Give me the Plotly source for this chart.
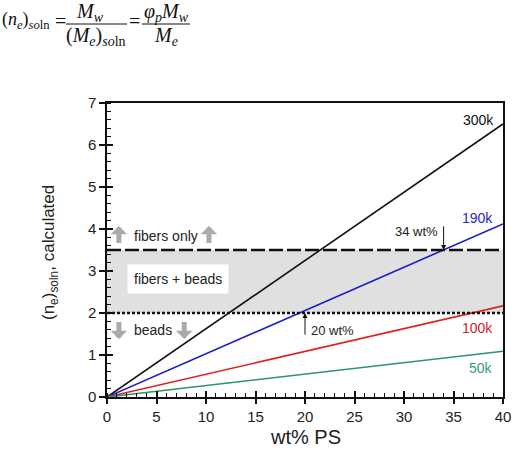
import plotly.graph_objects as go

# ---- data ----
wt_ps = [0, 40]
series_names = ["300k", "190k", "100k", "50k"]
series_end = [6.5, 4.12, 2.17, 1.09]          # (n_e)_soln at 40 wt%
series_colors = ["#111111", "#1a1acc", "#dd2222", "#2e9466"]
label_colors = ["#111111", "#2a2ab8", "#d02424", "#3a9a72"]
label_pos = [(39.3, 6.6), (39.2, 4.27), (39.2, 1.64), (39.2, 0.69)]
fiber_only_level = 3.5
beads_level = 2.0
ann_34 = 34
ann_20 = 20

W, H = 531, 449
L, R, T, B = 107, 28, 103, 52
PW, PH = W - L - R, H - T - B

def px(x):
    return (x - L) / PW

def py(y):
    return (H - B - y) / PH

fig = go.Figure()

# gray band
fig.add_shape(type="rect", xref="x", yref="y", x0=0, x1=40, y0=beads_level, y1=fiber_only_level,
              fillcolor="#e0e0e0", line_width=0, layer="below")

for name, end, col in zip(series_names, series_end, series_colors):
    fig.add_trace(go.Scatter(x=wt_ps, y=[0, end], mode="lines", name=name,
                             line=dict(color=col, width=1.6), showlegend=False))

# threshold lines
fig.add_trace(go.Scatter(x=[0, 40], y=[fiber_only_level] * 2, mode="lines",
                         line=dict(color="#111", width=2.6, dash="14px,4px"), showlegend=False))
fig.add_trace(go.Scatter(x=[0, 40], y=[beads_level] * 2, mode="lines",
                         line=dict(color="#111", width=2.4, dash="3px,2px"), showlegend=False))

# dummy trace for overlay axes (inside major ticks)
fig.add_trace(go.Scatter(x=[0], y=[0], xaxis="x2", yaxis="y2", mode="markers",
                         marker=dict(opacity=0), showlegend=False, hoverinfo="skip"))

anns = []
font_txt = dict(family="Liberation Sans, Arial", size=14, color="#222")
for name, (lx, ly), c in zip(series_names, label_pos, label_colors):
    anns.append(dict(x=lx, y=ly, xref="x", yref="y", text=name, showarrow=False,
                     xanchor="right", yanchor="middle",
                     font=dict(family="Liberation Sans, Arial", size=14, color=c)))

# region texts
anns.append(dict(x=2.5, y=3.84, xref="x", yref="y", text="fibers only", showarrow=False,
                 xanchor="left", yanchor="middle", font=font_txt))
anns.append(dict(x=7.2, y=2.81, xref="x", yref="y", text="fibers + beads", showarrow=False,
                 xanchor="center", yanchor="middle", font=font_txt, bgcolor="white",
                 borderpad=6))
anns.append(dict(x=2.5, y=1.6, xref="x", yref="y", text="beads", showarrow=False,
                 xanchor="left", yanchor="middle", font=font_txt))

# gray block arrows
arrow_gray = "#aaaaaa"
for ax_x in [1.2, 10.3]:
    anns.append(dict(x=ax_x, y=4.07, xref="x", yref="y", ax=ax_x, ay=3.63, axref="x", ayref="y",
                     showarrow=True, arrowhead=1, arrowsize=0.55, arrowwidth=5,
                     arrowcolor=arrow_gray, text=""))
for ax_x in [1.2, 7.8]:
    anns.append(dict(x=ax_x, y=1.38, xref="x", yref="y", ax=ax_x, ay=1.82, axref="x", ayref="y",
                     showarrow=True, arrowhead=1, arrowsize=0.55, arrowwidth=5,
                     arrowcolor=arrow_gray, text=""))

# wt% callouts
anns.append(dict(x=ann_34, y=fiber_only_level, xref="x", yref="y", ax=ann_34, ay=4.1,
                 axref="x", ayref="y", showarrow=True, arrowhead=2, arrowsize=1,
                 arrowwidth=1, arrowcolor="#111", text=""))
anns.append(dict(x=33.6, y=3.95, xref="x", yref="y", text="34 wt%", showarrow=False,
                 xanchor="right", yanchor="middle",
                 font=dict(family="Liberation Sans, Arial", size=13, color="#222")))
anns.append(dict(x=ann_20, y=beads_level, xref="x", yref="y", ax=ann_20, ay=1.45,
                 axref="x", ayref="y", showarrow=True, arrowhead=2, arrowsize=1,
                 arrowwidth=1, arrowcolor="#111", text=""))
anns.append(dict(x=20.4, y=1.58, xref="x", yref="y", text="20 wt%", showarrow=False,
                 xanchor="left", yanchor="middle",
                 font=dict(family="Liberation Sans, Arial", size=13, color="#222")))

# axis titles
anns.append(dict(x=px(50), y=py(252), xref="paper", yref="paper", textangle=-90,
                 text="(n<sub>e</sub>)<sub>soln</sub>, calculated", showarrow=False,
                 xanchor="center", yanchor="middle",
                 font=dict(family="Liberation Sans, Arial", size=17, color="#222")))
anns.append(dict(x=px(305), y=py(437), xref="paper", yref="paper",
                 text="wt% PS", showarrow=False, xanchor="center", yanchor="middle",
                 font=dict(family="Liberation Sans, Arial", size=20, color="#222")))

# equation
eq_font = dict(family="Liberation Serif, Times New Roman", size=20, color="#111")
eq_font_s = dict(family="Liberation Serif, Times New Roman", size=18, color="#111")
anns.append(dict(x=px(0), y=py(21), xref="paper", yref="paper",
                 text="(<i>n</i><sub><i>e</i></sub>)<sub><i>so</i>ln</sub>",
                 showarrow=False, xanchor="left", yanchor="middle", font=eq_font_s))
anns.append(dict(x=px(60), y=py(21), xref="paper", yref="paper", text="=",
                 showarrow=False, xanchor="center", yanchor="middle", font=eq_font))
anns.append(dict(x=px(90), y=py(12), xref="paper", yref="paper",
                 text="<i>M</i><sub><i>w</i></sub>",
                 showarrow=False, xanchor="center", yanchor="middle", font=eq_font))
anns.append(dict(x=px(96), y=py(37), xref="paper", yref="paper",
                 text="(<i>M</i><sub><i>e</i></sub>)<sub><i>so</i>ln</sub>",
                 showarrow=False, xanchor="center", yanchor="middle", font=eq_font))
anns.append(dict(x=px(134), y=py(21), xref="paper", yref="paper", text="=",
                 showarrow=False, xanchor="center", yanchor="middle", font=eq_font))
anns.append(dict(x=px(166), y=py(12), xref="paper", yref="paper",
                 text="<i>φ</i><sub><i>p</i></sub><i>M</i><sub><i>w</i></sub>",
                 showarrow=False, xanchor="center", yanchor="middle", font=eq_font))
anns.append(dict(x=px(166), y=py(37), xref="paper", yref="paper",
                 text="<i>M</i><sub><i>e</i></sub>",
                 showarrow=False, xanchor="center", yanchor="middle", font=eq_font))

shapes = [
    dict(type="line", xref="paper", yref="paper", x0=px(66), x1=px(127), y0=py(24), y1=py(24),
         line=dict(color="#111", width=1)),
    dict(type="line", xref="paper", yref="paper", x0=px(142), x1=px(190), y0=py(24), y1=py(24),
         line=dict(color="#111", width=1)),
]
for s in shapes:
    fig.add_shape(**s)

tickfont = dict(family="Liberation Sans, Arial", size=15, color="#222")
fig.update_layout(
    width=W, height=H,
    margin=dict(l=L, r=R, t=T, b=B, pad=0, autoexpand=False),
    paper_bgcolor="white", plot_bgcolor="white",
    annotations=anns,
    xaxis=dict(range=[0, 40], dtick=5, tick0=0, ticks="outside", ticklen=5, tickwidth=1.5,
               tickcolor="#111", showgrid=False, zeroline=False, showline=True, linecolor="#111",
               linewidth=1.5, mirror=True, tickfont=tickfont, automargin=False,
               minor=dict(dtick=1, ticks="inside", ticklen=4, tickcolor="#111", tickwidth=1)),
    yaxis=dict(range=[0, 7], dtick=1, tick0=0, ticks="outside", ticklen=6, tickwidth=1.5,
               tickcolor="#111", showgrid=False, zeroline=False, showline=True, linecolor="#111",
               linewidth=1.5, mirror=True, tickfont=tickfont, automargin=False,
               minor=dict(dtick=0.2, ticks="inside", ticklen=4, tickcolor="#111", tickwidth=1)),
    xaxis2=dict(range=[0, 40], overlaying="x", anchor="y", dtick=5, ticks="inside", ticklen=6,
                tickwidth=1.5, tickcolor="#111", showticklabels=False, showgrid=False,
                zeroline=False, showline=False, automargin=False),
    yaxis2=dict(range=[0, 7], overlaying="y", anchor="x", dtick=1, ticks="inside", ticklen=6,
                tickwidth=1.5, tickcolor="#111", showticklabels=False, showgrid=False,
                zeroline=False, showline=False, automargin=False),
)

fig.write_html("out.html")
